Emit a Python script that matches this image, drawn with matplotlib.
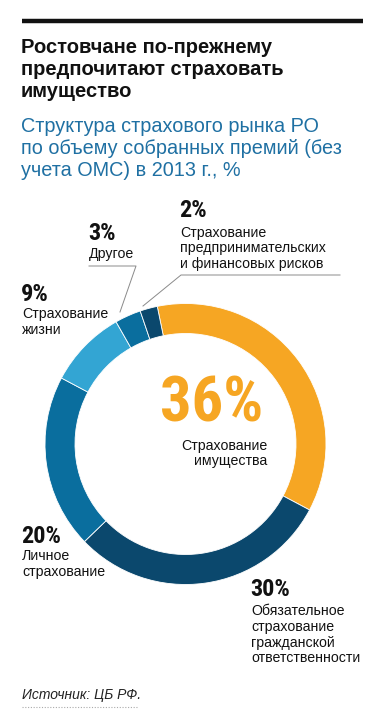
import matplotlib
matplotlib.use("Agg")
import matplotlib.pyplot as plt
from matplotlib import font_manager as fm
from matplotlib.lines import Line2D

# ---------------- data ----------------
categories = [
    "Страхование\nимущества",
    "Обязательное\nстрахование\nгражданской\nответственности",
    "Личное\nстрахование",
    "Страхование\nжизни",
    "Другое",
    "Страхование\nпредпринимательских\nи финансовых рисков",
]
values = [36, 30, 20, 9, 3, 2]
pct_labels = ["36%", "30%", "20%", "9%", "3%", "2%"]
colors = ["#F6A623", "#0B486D", "#0A6E9E", "#33A5D3", "#0A6E9E", "#0B486D"]

title = "Ростовчане по-прежнему\nпредпочитают страховать\nимущество"
subtitle = "Структура страхового рынка РО\nпо объему собранных премий (без\nучета ОМС) в 2013 г., %"
source = "Источник: ЦБ РФ."

# ---------------- fonts ----------------
names = {f.name for f in fm.fontManager.ttflist}
def pick(cands, default):
    for c in cands:
        if c in names:
            return c
    return default
REG = pick(["Liberation Sans", "Arial", "Roboto"], "DejaVu Sans")
NARROW = pick(["Liberation Sans Narrow", "Roboto Condensed", "Open Sans Condensed",
               "DejaVu Sans Condensed"], REG)

W, H = 384, 724
fig = plt.figure(figsize=(W / 100, H / 100), dpi=100)
fig.patch.set_facecolor("white")

def fx(px):
    return px / W

def fy(py):
    return 1 - py / H

# top rule
fig.add_artist(Line2D([fx(22), fx(363)], [fy(20.5), fy(20.5)], color="#111111", lw=3.2,
                      transform=fig.transFigure, solid_capstyle="butt"))

# title
for i, line in enumerate(title.split("\n")):
    fig.text(fx(21), fy(53 + 22 * i), line, fontsize=14.5, fontweight="bold",
             family=REG, color="#111111", va="baseline", ha="left")
# subtitle
for i, line in enumerate(subtitle.split("\n")):
    fig.text(fx(21), fy(132 + 22 * i), line, fontsize=14.3, family=REG,
             color="#1F70A3", va="baseline", ha="left")

# ---------------- donut ----------------
cx, cy, R = 185.5, 444, 140.5
ax = fig.add_axes([fx(cx - R), fy(cy + R), 2 * R / W, 2 * R / H])
ax.pie(values, colors=colors, startangle=101.6, counterclock=False, radius=1,
       wedgeprops=dict(width=30 / R, edgecolor="white", linewidth=0.6))
ax.set_xlim(-1, 1)
ax.set_ylim(-1, 1)
ax.set_aspect("equal")
ax.axis("off")

# centre label
fig.text(fx(212), fy(422), pct_labels[0], fontsize=45, fontweight="bold", family=NARROW,
         color="#F6A623", ha="center", va="baseline")
cl = categories[0].split("\n")
for i, line in enumerate(cl):
    fig.text(fx(267), fy(450 + 15.5 * i), line, fontsize=10.2, family=REG,
             color="#111111", ha="right", va="baseline")

# outer labels: (index, x, pct baseline, first text baseline)
label_pos = [
    (5, 180, 217, 236.5),
    (4, 89, 240, 258),
    (3, 22, 301, 318),
    (2, 22, 543, 560),
    (1, 251, 596, 615),
]
for idx, x, pb, tb in label_pos:
    fig.text(fx(x - 1), fy(pb), pct_labels[idx], fontsize=17.5, fontweight="bold",
             family=NARROW, color="#111111", ha="left", va="baseline")
    for j, line in enumerate(categories[idx].split("\n")):
        fig.text(fx(x), fy(tb + 15.8 * j), line, fontsize=10.2, family=REG,
                 color="#111111", ha="left", va="baseline")

# leader lines
def leader(pts):
    xs = [fx(p[0]) for p in pts]
    ys = [fy(p[1]) for p in pts]
    fig.add_artist(Line2D(xs, ys, color="#8A8A8A", lw=0.7, transform=fig.transFigure))

leader([(340, 275), (181, 275), (143, 306)])
leader([(89, 266), (136, 266), (120, 312)])

# source
fig.text(fx(22), fy(699), source, fontsize=10, family=REG, style="italic",
         color="#222222", ha="left", va="baseline")
fig.add_artist(Line2D([fx(22), fx(137)], [fy(706.5), fy(706.5)], color="#AAAAAA", lw=0.8,
                      ls=(0, (1, 1.5)), transform=fig.transFigure))

fig.savefig("out.png", dpi=100, facecolor="white")
